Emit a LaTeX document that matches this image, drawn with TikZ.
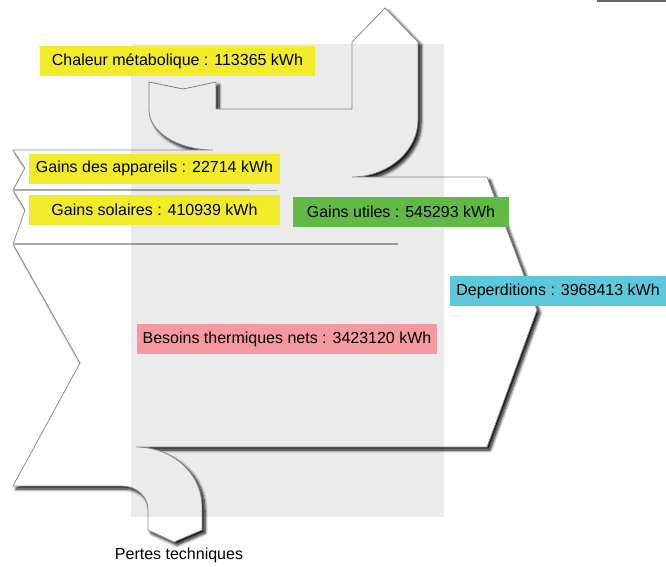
\documentclass[tikz,border=0pt]{standalone}
\usepackage{fontspec}
\setmainfont{Liberation Sans}
\usetikzlibrary{shadows.blur}
\definecolor{flowline}{HTML}{8C8C8C}
\definecolor{sepline}{HTML}{A8A8A8}
\definecolor{gainy}{HTML}{F1EB2A}
\definecolor{utilg}{HTML}{62B946}
\definecolor{depc}{HTML}{5CC8DC}
\definecolor{besp}{HTML}{F5999E}
\definecolor{barc}{HTML}{6B675E}

\begin{document}
\begin{tikzpicture}[x=1pt,y=-1pt,
  flow/.style={fill=white,draw=flowline,line width=0.8pt,line join=round,
    blur shadow={shadow xshift=3pt,shadow yshift=-3pt,shadow blur radius=3pt,shadow blur steps=8,shadow opacity=95}},
  tag/.style={font=\fontsize{16}{18}\selectfont,inner sep=0pt,minimum height=30pt,anchor=center}]
  \useasboundingbox (0,0) rectangle (666,567);
  \fill[barc] (597,0) rectangle (666,2.5);
  \path[flow] (13,150) -- (213,150) .. controls (178,150) and (149,132) .. (149,110)
    -- (149,82) -- (183,89) -- (216,82) -- (216,109) -- (352,109) -- (352,42)
    -- (385,8) -- (418,42) -- (418,120) .. controls (418,151) and (388,177) .. (352,177)
    -- (487,177) -- (537,310) -- (487,447)
    -- (136,447) .. controls (172,447) and (202,473) .. (202,507) -- (202,530)
    -- (174,542) -- (148,530) -- (148,510) .. controls (148,497) and (137,486) .. (122,486)
    -- (13,486) -- (80,363) -- (13,244) -- (25,210) -- (13,190) -- (25,168) -- cycle;
  \draw[sepline,line width=1.5pt] (13,190) -- (250,190);
  \draw[sepline!60,line width=1pt] (250,190) -- (277,190);
  \draw[sepline,line width=1.5pt] (13,244) -- (398,244);
  \fill[black,opacity=0.08] (131,44) rectangle (444,517);
  \foreach \nm/\cx/\cy/\bw/\col/\txt in {
      meta/177.5/61.5/275/gainy/Chaleur métabolique : 113365 kWh,
      appar/154.5/168.5/251/gainy/Gains des appareils : 22714 kWh,
      solar/154.5/209.5/251/gainy/Gains solaires : 410939 kWh,
      utile/401/212/216/utilg/Gains utiles : 545293 kWh,
      deper/558/291/216/depc/Deperditions : 3968413 kWh,
      besoin/287/339/300/besp/Besoins thermiques nets : 3423120 kWh}
    \node[tag,fill=\col,minimum width=\bw pt] (\nm) at (\cx,\cy) {\txt};
  \node[tag] (pertes) at (179,555) {Pertes techniques};
\end{tikzpicture}
\end{document}
